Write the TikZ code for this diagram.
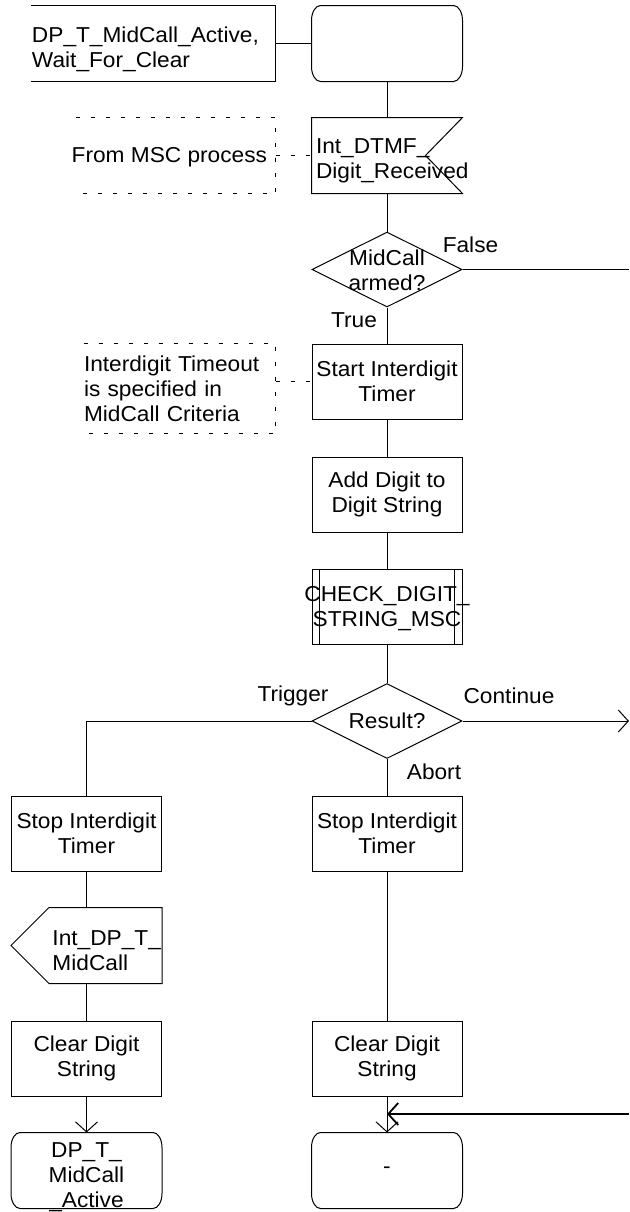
\documentclass[tikz,border=0pt]{standalone}
\usepackage{fontspec}
\setmainfont{Liberation Sans}[FakeStretch=1.05]
\usetikzlibrary{arrows.meta}
\usetikzlibrary{shapes}

\begin{document}
\begin{tikzpicture}[x = 0.5pt, y = -0.5pt, line width = 0.5pt,
                    font = \fontsize{10.8}{12.5}\selectfont]
\tikzstyle{TaskStyle}=[shape = rectangle, draw,
                       minimum width = 75pt, minimum height = 37.5pt,
                       inner sep = 1pt, align = center]
\tikzstyle{StateStyle}=[shape = rectangle,
                        minimum width = 75pt, minimum height = 37.5pt,
                        inner sep = 0pt]
\tikzstyle{DecisionStyle}=[shape = diamond, draw, aspect = 2,
                           minimum width = 75pt, minimum height = 37.5pt,
                           inner sep = 0pt]
\tikzstyle{SignalStyle}=[shape = rectangle,
                         minimum width = 75pt, minimum height = 37.5pt,
                         inner sep = 0pt]
\tikzstyle{NoteStyle}=[shape = rectangle, inner sep = 0pt, align = left]
\tikzstyle{TextStyle}=[inner sep = 0pt, align = center]
\tikzstyle{CommentLine}=[dash pattern = on 2pt off 5.5pt]
\tikzstyle{FlowArrow}=[-{Straight Barb[length = 5pt, width = 11pt]}]
\useasboundingbox (0,0) rectangle (629,1212);
\node[NoteStyle, minimum width = 122pt, minimum height = 37.5pt] (hdr) at (153,43.5) {};
\node[StateStyle] (st0) at (387,43.5) {};
\node[SignalStyle] (in1) at (387,155.5) {};
\node[NoteStyle, minimum width = 99.5pt, minimum height = 37.5pt] (cm1) at (175.5,155.5) {};
\node[DecisionStyle] (dec1) at (387,269.5) {};
\node[TaskStyle] (tsk1) at (387,381.5) {Start Interdigit\\Timer};
\node[NoteStyle, text width = 95.5pt, minimum height = 44.5pt] (cm2) at (179.5,388.5) {Interdigit Timeout\\is specified in\\MidCall Criteria};
\node[TaskStyle] (tsk2) at (387,494.5) {Add Digit to\\Digit String};
\node[TaskStyle] (prc) at (387,607) {};
\node[DecisionStyle] (dec2) at (387,721) {Result?};
\node[TaskStyle] (tsk3) at (387,833.5) {Stop Interdigit\\Timer};
\node[TaskStyle] (tsk4) at (387,1058.5) {Clear Digit\\String};
\node[StateStyle] (st2) at (387,1170.5) {-};
\node[TaskStyle] (tsk5) at (86.5,833.5) {Stop Interdigit\\Timer};
\node[SignalStyle] (out1) at (86.5,945.5) {};
\node[TaskStyle] (tsk6) at (86.5,1058.5) {Clear Digit\\String};
\node[StateStyle] (st1) at (86.5,1170.5) {};

\node[TextStyle, align = left, anchor = west] (t-hdr) at ([xshift = 0.5pt, yshift = -3pt]hdr.west) {DP\_T\_MidCall\_Active,\\Wait\_For\_Clear};
\node[TextStyle, align = left, anchor = west] (t-in1) at ([xshift = 2pt, yshift = -2.5pt]in1.west) {Int\_DTMF\_\\Digit\_Received};
\node[TextStyle, anchor = east] (t-cm1) at ([xshift = -4pt, yshift = -1pt]cm1.east) {From MSC process};
\node[TextStyle] (t-dec1) at ([yshift = -0.5pt]dec1) {MidCall\\armed?};
\node[TextStyle] (t-prc) at ([yshift = -1pt]prc) {CHECK\_DIGIT\_\\STRING\_MSC};
\node[TextStyle, align = left, anchor = west] (t-out1) at ([xshift = 20.5pt, yshift = -2.5pt]out1.west) {Int\_DP\_T\_\\MidCall};
\node[TextStyle] (t-st1) at ([yshift = -3.5pt]st1) {DP\_T\_\\MidCall\\\_Active};

\node[TextStyle] (l-false) at (470.5,245) {False};
\node[TextStyle] (l-true) at (354,320) {True};
\node[TextStyle] (l-trig) at (293,696) {Trigger};
\node[TextStyle] (l-cont) at (509,696) {Continue};
\node[TextStyle] (l-abort) at (434,772) {Abort};

\coordinate (fls) at (629,269.5);
\coordinate (cnt) at (629,721);
\coordinate (rtn) at (629,1114);
\coordinate (jn) at (387,1114);

\foreach \s in {st0,st1,st2}
  \draw ([xshift = 4.5pt]\s.north west) -- ([xshift = -4.5pt]\s.north east)
        arc[start angle = 90, end angle = 0, x radius = 4.5pt, y radius = 7.5pt]
        -- ([yshift = 7.5pt]\s.south east)
        arc[start angle = 0, end angle = -90, x radius = 4.5pt, y radius = 7.5pt]
        -- ([xshift = 4.5pt]\s.south west)
        arc[start angle = 270, end angle = 180, x radius = 4.5pt, y radius = 7.5pt]
        -- ([yshift = -7.5pt]\s.north west)
        arc[start angle = 180, end angle = 90, x radius = 4.5pt, y radius = 7.5pt]
        -- cycle;
\draw (hdr.north west) -- (hdr.north east) -- (hdr.south east) -- (hdr.south west);
\draw (in1.north west) -- (in1.north east) -- ([xshift = -18.5pt]in1.east) -- (in1.south east) -- (in1.south west) -- cycle;
\draw ([xshift = 4pt]prc.north west) -- ([xshift = 4pt]prc.south west);
\draw ([xshift = -4pt]prc.north east) -- ([xshift = -4pt]prc.south east);
\draw (out1.west) -- ([xshift = 19pt]out1.north west) -- (out1.north east) -- (out1.south east) -- ([xshift = 19pt]out1.south west) -- cycle;
\draw[CommentLine] (cm1.north west) -- (cm1.north east) -- (cm1.south east) -- (cm1.south west);
\draw[CommentLine] (cm2.north west) -- (cm2.north east) -- (cm2.south east) -- (cm2.south west);

\draw (hdr.east) -- (st0.west);
\draw[CommentLine] (cm1.east) -- (in1.west);
\draw[CommentLine] (tsk1.west -| cm2.east) -- (tsk1.west);
\draw (st0.south) -- (in1.north);
\draw (in1.south) -- (dec1.north);
\draw (dec1.east) -- (fls);
\draw (dec1.south) -- (tsk1.north);
\draw (tsk1.south) -- (tsk2.north);
\draw (tsk2.south) -- (prc.north);
\draw (prc.south) -- (dec2.north);
\draw[FlowArrow] (dec2.east) -- (cnt);
\draw (dec2.west) -| (tsk5.north);
\draw (dec2.south) -- (tsk3.north);
\draw (tsk3.south) -- (tsk4.north);
\draw[FlowArrow] (tsk4.south) -- (st2.north);
\draw[FlowArrow, line width = 0.9pt] (rtn) -- (jn);
\draw (tsk5.south) -- (out1.north);
\draw (out1.south) -- (tsk6.north);
\draw[FlowArrow] (tsk6.south) -- (st1.north);
\end{tikzpicture}
\end{document}
